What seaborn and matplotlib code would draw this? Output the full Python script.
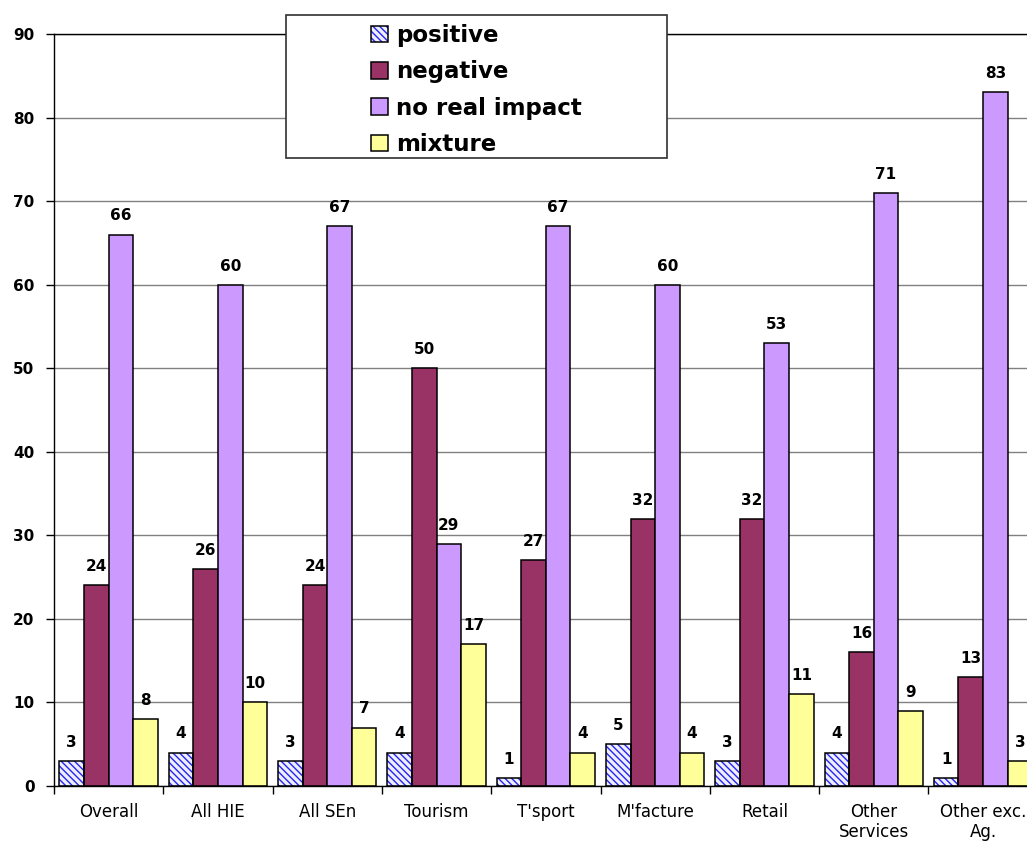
import matplotlib
matplotlib.use("Agg")
import matplotlib.pyplot as plt
from matplotlib.patches import Patch, Rectangle
import numpy as np
import pandas as pd
import seaborn as sns

# Survey responses by sector (%)
categories = ["Overall", "All HIE", "All SEn", "Tourism", "T'sport", "M'facture",
              "Retail", "Other\nServices", "Other exc.\nAg."]
series = ["positive", "negative", "no real impact", "mixture"]
positive = [3, 4, 3, 4, 1, 5, 3, 4, 1]
negative = [24, 26, 24, 50, 27, 32, 32, 16, 13]
no_real_impact = [66, 60, 67, 29, 67, 60, 53, 71, 83]
mixture = [8, 10, 7, 17, 4, 4, 11, 9, 3]
y_ticks = list(range(0, 100, 10))

palette = {"positive": "#EEEEFF", "negative": "#993366",
           "no real impact": "#CC99FF", "mixture": "#FFFF99"}
hatch_color = "#2626F0"
hatch = "\\" * 5

sns.set_theme(style="white")
plt.rcParams["font.family"] = ["DejaVu Sans"]
plt.rcParams["hatch.linewidth"] = 1.0
for key in ["text.color", "axes.labelcolor", "xtick.color", "ytick.color"]:
    plt.rcParams[key] = "black"

df = pd.DataFrame({
    "category": np.repeat(categories, len(series)),
    "series": series * len(categories),
    "value": np.column_stack([positive, negative, no_real_impact, mixture]).ravel(),
})

fig = plt.figure(figsize=(10.27, 8.42), dpi=100)
ax = fig.add_axes([54 / 1027, 56 / 842, 983.7 / 1027, 752 / 842])

sns.barplot(data=df, x="category", y="value", hue="series", order=categories,
            hue_order=series, palette=palette, width=0.9, saturation=1,
            edgecolor="black", linewidth=1.1, legend=False, ax=ax)

# Hatched fill for the "positive" bars, with a black outline on top
for bar in ax.containers[0]:
    bar.set_hatch(hatch)
    bar.set_edgecolor(hatch_color)
    bar.set_linewidth(0)
    ax.add_patch(Rectangle(bar.get_xy(), bar.get_width(), bar.get_height(),
                           fill=False, edgecolor="black", linewidth=1.1,
                           zorder=bar.get_zorder() + 0.1))

for cont in ax.containers:
    ax.bar_label(cont, fmt="%g", padding=8, fontsize=11, fontweight="bold", color="black")

ax.set_ylim(0, 90)
ax.set_xlim(-0.5, len(categories) - 0.5)
ax.set_yticks(y_ticks)
ax.set_xlabel("")
ax.set_ylabel("")

ax.yaxis.grid(True, color="#808080", linewidth=1)
ax.set_axisbelow(True)
for side in ["left", "bottom", "top"]:
    ax.spines[side].set_visible(True)
    ax.spines[side].set_color("black")
    ax.spines[side].set_linewidth(1)
ax.spines["right"].set_visible(False)

ax.set_xticks(np.arange(-0.5, len(categories), 1), minor=True)
ax.tick_params(axis="x", which="major", length=0, pad=12, labelsize=12,
               labelcolor="black", bottom=True)
ax.tick_params(axis="x", which="minor", length=6, width=1, color="black",
               direction="out", bottom=True)
ax.tick_params(axis="y", length=6, width=1, color="black", direction="out", pad=8,
               labelsize=11, labelcolor="black", left=True)
for lbl in ax.get_yticklabels():
    lbl.set_fontweight("bold")
for lbl in ax.get_xticklabels():
    lbl.set_linespacing(1.15)

# Legend box
frame = Rectangle((286 / 1027, (842 - 158) / 842), 381 / 1027, 143 / 842,
                  transform=fig.transFigure, facecolor="white", edgecolor="#303030",
                  linewidth=1.2, zorder=5)
fig.add_artist(frame)

handles = [
    (Patch(facecolor=palette["positive"], edgecolor=hatch_color, hatch=hatch, linewidth=0),
     Patch(fill=False, edgecolor="black", linewidth=1.1)),
    Patch(facecolor=palette["negative"], edgecolor="black", linewidth=1.1),
    Patch(facecolor=palette["no real impact"], edgecolor="black", linewidth=1.1),
    Patch(facecolor=palette["mixture"], edgecolor="black", linewidth=1.1),
]
leg = fig.legend(handles, series, loc="center left",
                 bbox_to_anchor=(371 / 1027, (842 - 90) / 842),
                 frameon=False, borderpad=0, borderaxespad=0,
                 handlelength=0.76, handleheight=0.72, handletextpad=0.33,
                 labelspacing=0.58, prop={"size": 16.5, "weight": "bold"},
                 labelcolor="black")
leg.set_zorder(6)

fig.savefig("out.png", dpi=100)
